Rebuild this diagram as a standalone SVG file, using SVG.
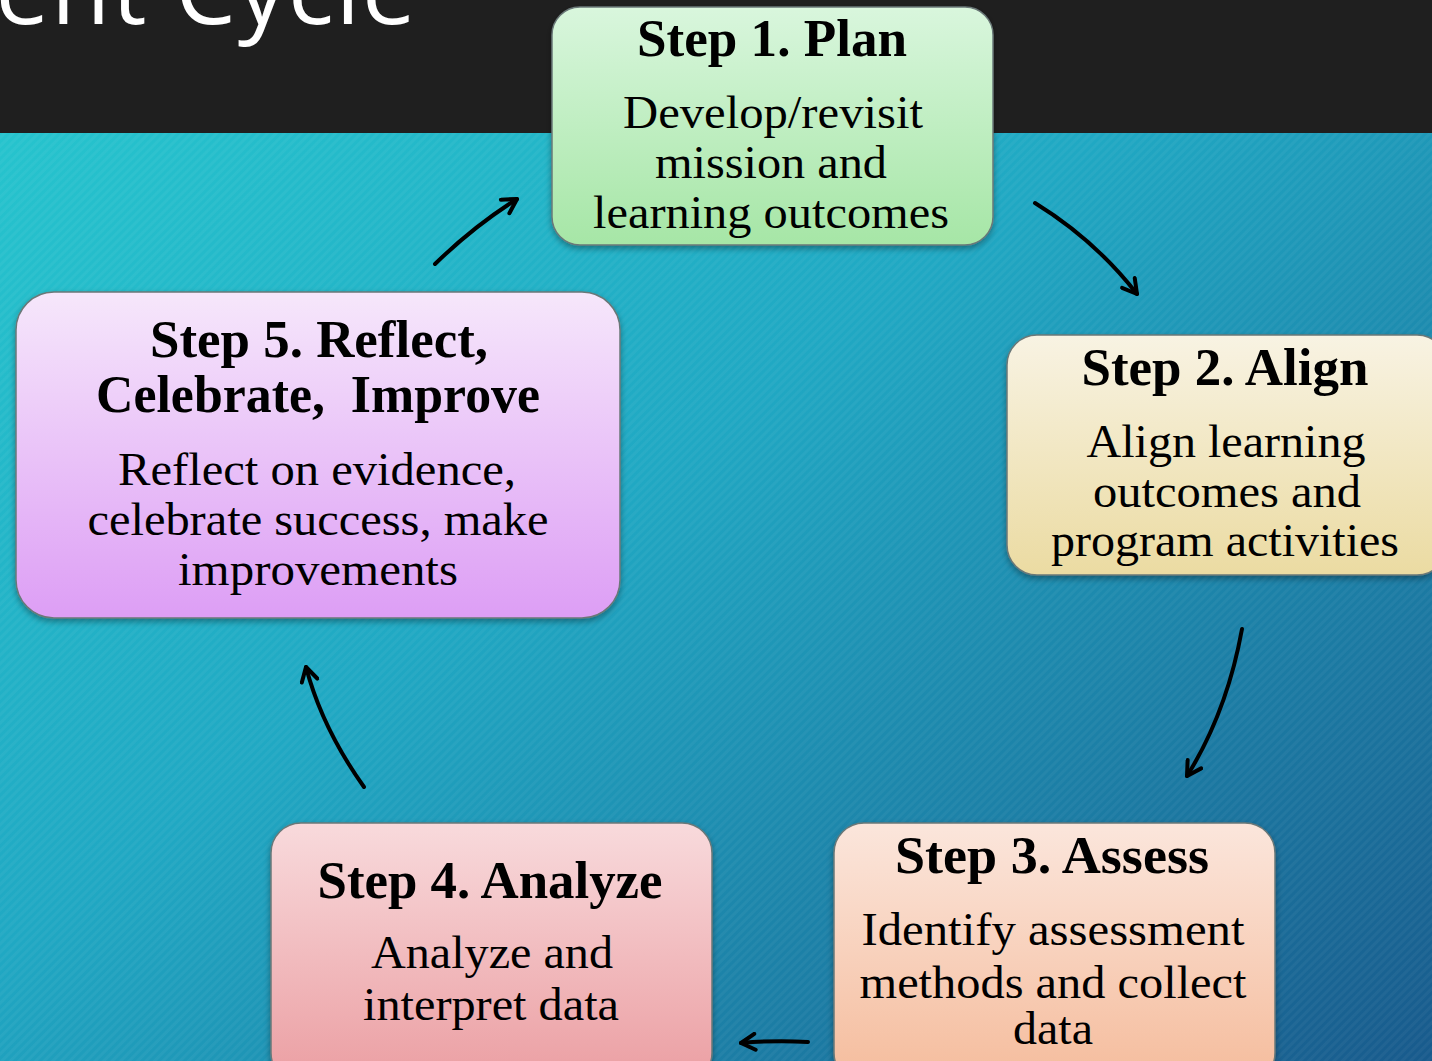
<svg xmlns="http://www.w3.org/2000/svg" width="1432" height="1061" viewBox="0 0 1432 1061">
<defs>
<style>
.t{font-family:"Liberation Serif","Times New Roman",serif;font-weight:bold;fill:#000;text-anchor:middle}
.b{font-family:"Liberation Serif","Times New Roman",serif;fill:#000;text-anchor:middle}
.box{stroke:#6a7878;stroke-width:1.5}
.arr{fill:none;stroke:#000;stroke-width:4;stroke-linecap:round;marker-end:url(#ah)}
</style>
<linearGradient id="bg" x1="0" y1="0" x2="1" y2="1">
<stop offset="0" stop-color="#27c8cf"/>
<stop offset="0.45" stop-color="#20a8c3"/>
<stop offset="1" stop-color="#185a8c"/>
</linearGradient>
<pattern id="stripes" width="6" height="6" patternUnits="userSpaceOnUse" patternTransform="rotate(-45)">
<rect width="6" height="3" fill="#ffffff" opacity="0.04"/>
</pattern>
<linearGradient id="g1" x1="0" y1="0" x2="0" y2="1"><stop offset="0" stop-color="#d9f6dd"/><stop offset="1" stop-color="#a6e6a6"/></linearGradient>
<linearGradient id="g2" x1="0" y1="0" x2="0" y2="1"><stop offset="0" stop-color="#f8f3e3"/><stop offset="1" stop-color="#ebdba2"/></linearGradient>
<linearGradient id="g3" x1="0" y1="0" x2="0" y2="1"><stop offset="0" stop-color="#fbe6dc"/><stop offset="1" stop-color="#f5bc9c"/></linearGradient>
<linearGradient id="g4" x1="0" y1="0" x2="0" y2="1"><stop offset="0" stop-color="#f8dadc"/><stop offset="1" stop-color="#eb9ea2"/></linearGradient>
<linearGradient id="g5" x1="0" y1="0" x2="0" y2="1"><stop offset="0" stop-color="#f6e7fb"/><stop offset="1" stop-color="#dd9ef5"/></linearGradient>
<filter id="sh" x="-10%" y="-10%" width="120%" height="130%">
<feDropShadow dx="0" dy="3" stdDeviation="3" flood-color="#000" flood-opacity="0.35"/>
</filter>
<marker id="ah" viewBox="0 0 20 20" refX="17" refY="10" markerWidth="20" markerHeight="20" markerUnits="userSpaceOnUse" orient="auto">
<path d="M3,2 L17,10 L3,18" fill="none" stroke="#000" stroke-width="4" stroke-linecap="round" stroke-linejoin="round"/>
</marker>
</defs>

<rect x="0" y="0" width="1432" height="1061" fill="url(#bg)"/>
<rect x="0" y="0" width="1432" height="1061" fill="url(#stripes)"/>
<rect x="0" y="0" width="1432" height="133" fill="#1f1f1f"/>
<text x="418" y="24" font-family="'Open Sans','DejaVu Sans',sans-serif" font-size="96" fill="#ffffff" text-anchor="end" letter-spacing="2">ent Cycle</text>

<g id="connectors">
<path class="arr" d="M1035,203 Q1095,240 1137,294"/>
<path class="arr" d="M1242,629 Q1227,712 1187,776"/>
<path class="arr" d="M808,1042 Q775,1040 741,1043"/>
<path class="arr" d="M364,787 Q322,728 306,667"/>
<path class="arr" d="M435,264 Q474,226 517,199"/>
</g>

<g id="step1">
<rect class="box" x="552" y="7" width="441" height="238" rx="28" fill="url(#g1)" filter="url(#sh)"/>
<text class="t" x="772" y="56" font-size="52" textLength="270" lengthAdjust="spacingAndGlyphs">Step 1. Plan</text>
<text class="b" x="773" y="128" font-size="46" textLength="300" lengthAdjust="spacingAndGlyphs">Develop/revisit</text>
<text class="b" x="771" y="178" font-size="46" textLength="232" lengthAdjust="spacingAndGlyphs">mission and</text>
<text class="b" x="771" y="228" font-size="46" textLength="356" lengthAdjust="spacingAndGlyphs">learning outcomes</text>
</g>

<g id="step2">
<rect class="box" x="1007" y="335" width="440" height="240" rx="30" fill="url(#g2)" filter="url(#sh)"/>
<text class="t" x="1225" y="385" font-size="52" textLength="287" lengthAdjust="spacingAndGlyphs">Step 2. Align</text>
<text class="b" x="1226" y="457" font-size="46" textLength="279" lengthAdjust="spacingAndGlyphs">Align learning</text>
<text class="b" x="1227" y="507" font-size="46" textLength="268" lengthAdjust="spacingAndGlyphs">outcomes and</text>
<text class="b" x="1225" y="556" font-size="46" textLength="348" lengthAdjust="spacingAndGlyphs">program activities</text>
</g>

<g id="step3">
<rect class="box" x="834" y="823" width="441" height="260" rx="30" fill="url(#g3)" filter="url(#sh)"/>
<text class="t" x="1052" y="873" font-size="52" textLength="314" lengthAdjust="spacingAndGlyphs">Step 3. Assess</text>
<text class="b" x="1053" y="945" font-size="46" textLength="383" lengthAdjust="spacingAndGlyphs">Identify assessment</text>
<text class="b" x="1053" y="998" font-size="46" textLength="387" lengthAdjust="spacingAndGlyphs">methods and collect</text>
<text class="b" x="1053" y="1044" font-size="46" textLength="80" lengthAdjust="spacingAndGlyphs">data</text>
</g>

<g id="step4">
<rect class="box" x="271" y="823" width="441" height="260" rx="30" fill="url(#g4)" filter="url(#sh)"/>
<text class="t" x="490" y="898" font-size="52" textLength="345" lengthAdjust="spacingAndGlyphs">Step 4. Analyze</text>
<text class="b" x="492" y="968" font-size="46" textLength="242" lengthAdjust="spacingAndGlyphs">Analyze and</text>
<text class="b" x="491" y="1020" font-size="46" textLength="256" lengthAdjust="spacingAndGlyphs">interpret data</text>
</g>

<g id="step5">
<rect class="box" x="16" y="292" width="604" height="326" rx="38" fill="url(#g5)" filter="url(#sh)"/>
<text class="t" x="319" y="357" font-size="52" textLength="338" lengthAdjust="spacingAndGlyphs">Step 5. Reflect,</text>
<text class="t" x="318" y="412" font-size="52" textLength="444" lengthAdjust="spacingAndGlyphs">Celebrate,&#160; Improve</text>
<text class="b" x="317" y="485" font-size="46" textLength="398" lengthAdjust="spacingAndGlyphs">Reflect on evidence,</text>
<text class="b" x="318" y="535" font-size="46" textLength="461" lengthAdjust="spacingAndGlyphs">celebrate success, make</text>
<text class="b" x="318" y="585" font-size="46" textLength="280" lengthAdjust="spacingAndGlyphs">improvements</text>
</g>
</svg>
